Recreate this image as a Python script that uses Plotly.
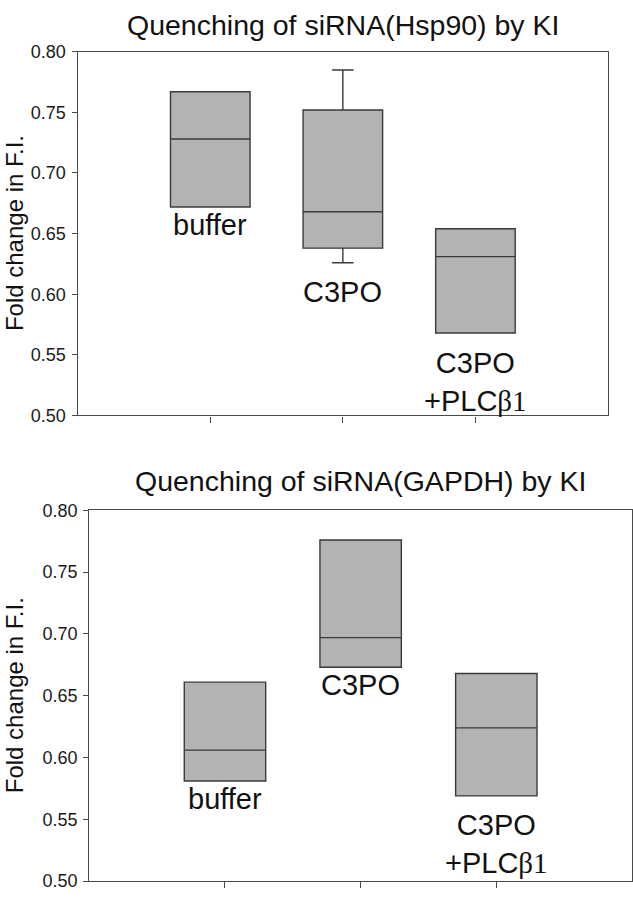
import plotly.graph_objects as go

# ---------------- data ----------------
categories = ["buffer", "C3PO", "C3PO+PLCβ1"]
label_texts = ["buffer", "C3PO", "C3PO<br>+PLC<span style=\"font-family:'Liberation Serif'\">β1</span>"]

hsp90_lower = [0.672, 0.626, 0.568]
hsp90_q1 = [0.672, 0.638, 0.568]
hsp90_median = [0.728, 0.668, 0.631]
hsp90_q3 = [0.767, 0.752, 0.654]
hsp90_upper = [0.767, 0.785, 0.654]

gapdh_lower = [0.581, 0.673, 0.569]
gapdh_q1 = [0.581, 0.673, 0.569]
gapdh_median = [0.606, 0.697, 0.624]
gapdh_q3 = [0.661, 0.776, 0.668]
gapdh_upper = [0.661, 0.776, 0.668]

y_ticks = [0.50, 0.55, 0.60, 0.65, 0.70, 0.75, 0.80]
titles = ["Quenching of siRNA(Hsp90) by KI", "Quenching of siRNA(GAPDH) by KI"]
y_title = "Fold change in F.I."

# label pixel shifts (layout only)
hsp90_label_shift = [0, -11, -12]
gapdh_label_shift = [0, 0, -11]

W, H = 633, 899
FONT = "Liberation Sans, Arial, sans-serif"
FILL = "#b3b3b3"
EDGE = "#3a3a3a"
AX = "#4a4a4a"

fig = go.Figure()

fig.add_trace(go.Box(
    x=categories, q1=hsp90_q1, median=hsp90_median, q3=hsp90_q3,
    lowerfence=hsp90_lower, upperfence=hsp90_upper,
    width=0.6, whiskerwidth=0.27, fillcolor=FILL,
    line=dict(color=EDGE, width=1.4), boxpoints=False,
    xaxis="x", yaxis="y", showlegend=False, hoverinfo="skip"))

fig.add_trace(go.Box(
    x=categories, q1=gapdh_q1, median=gapdh_median, q3=gapdh_q3,
    lowerfence=gapdh_lower, upperfence=gapdh_upper,
    width=0.6, whiskerwidth=0.27, fillcolor=FILL,
    line=dict(color=EDGE, width=1.4), boxpoints=False,
    xaxis="x2", yaxis="y2", showlegend=False, hoverinfo="skip"))

def xaxis(domain, anchor):
    return dict(domain=domain, anchor=anchor, type="category",
                categoryorder="array", categoryarray=categories,
                range=[-1, 3], showticklabels=False, ticks="outside",
                ticklen=6, tickwidth=1.2, tickcolor=AX, showline=True,
                linecolor=AX, linewidth=1.4, mirror=True, showgrid=False,
                zeroline=False)

def yaxis(domain, anchor):
    return dict(domain=domain, anchor=anchor, range=[0.50, 0.80],
                tickvals=y_ticks, ticktext=[f"{v:.2f}" for v in y_ticks],
                ticks="outside", ticklen=5, tickwidth=1.2, tickcolor=AX,
                showline=True, linecolor=AX, linewidth=1.4, mirror=True,
                showgrid=False, zeroline=False, ticklabelstandoff=2,
                tickfont=dict(family=FONT, size=18, color="#1a1a1a"))

top_x = [77.7 / W, 608 / W]
bot_x = [89.3 / W, 632 / W]
top_y = [1 - 414.7 / H, 1 - 42.7 / H]
bot_y = [1 - 891 / H, 1 - 511.7 / H]

annotations = []
for i, cat in enumerate(categories):
    annotations.append(dict(x=cat, y=hsp90_lower[i], xref="x", yref="y",
                            text=label_texts[i], showarrow=False, yanchor="top",
                            yshift=hsp90_label_shift[i],
                            font=dict(family=FONT, size=29, color="#111")))
    annotations.append(dict(x=cat, y=gapdh_lower[i], xref="x2", yref="y2",
                            text=label_texts[i], showarrow=False, yanchor="top",
                            yshift=gapdh_label_shift[i],
                            font=dict(family=FONT, size=29, color="#111")))

annotations.append(dict(x=(top_x[0] + top_x[1]) / 2, y=1 - 15 / H, xref="paper", yref="paper",
                        text=titles[0], showarrow=False, xanchor="center", yanchor="middle",
                        font=dict(family=FONT, size=28.5, color="#111")))
annotations.append(dict(x=(bot_x[0] + bot_x[1]) / 2, y=1 - 482 / H, xref="paper", yref="paper",
                        text=titles[1], showarrow=False, xanchor="center", yanchor="middle",
                        font=dict(family=FONT, size=28.5, color="#111")))
# y-axis titles (centered on each plot area)
for dom in (top_y, bot_y):
    annotations.append(dict(x=0, y=sum(dom) / 2, xref="paper", yref="paper",
                            text=y_title, showarrow=False, textangle=-90,
                            xanchor="left", yanchor="middle", borderpad=0,
                            font=dict(family=FONT, size=24, color="#111")))

fig.update_layout(
    width=W, height=H, autosize=False,
    margin=dict(l=0, r=0, t=0, b=0),
    paper_bgcolor="white", plot_bgcolor="white",
    xaxis=xaxis(top_x, "y"), yaxis=yaxis(top_y, "x"),
    xaxis2=xaxis(bot_x, "y2"), yaxis2=yaxis(bot_y, "x2"),
    annotations=annotations,
    showlegend=False,
)

fig.write_html("out.html", config={"displayModeBar": False},
               post_script="document.body.style.margin='0';document.body.style.overflow='hidden';")
